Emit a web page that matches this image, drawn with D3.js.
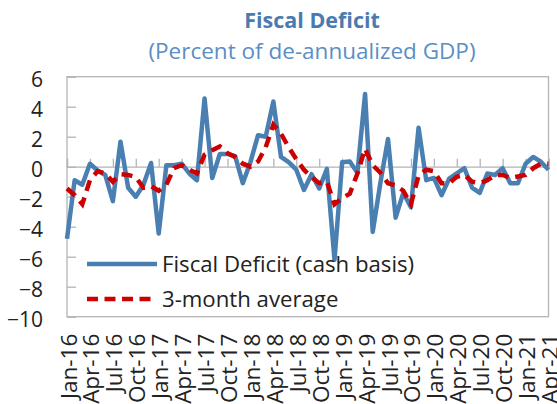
<!DOCTYPE html>
<html>
<head>
<meta charset="utf-8">
<script src="https://cdn.jsdelivr.net/npm/d3@7"></script>
<style>
    body { margin: 0; background: #fff; }
    svg { display: block; font-family: "Open Sans", sans-serif; }
</style>
</head>
<body>
<div id="chart"></div>
<script>
// monthly, Jan-16 .. Apr-21
const monthNames = ["Jan", "Feb", "Mar", "Apr", "May", "Jun", "Jul", "Aug", "Sep", "Oct", "Nov", "Dec"];
const months = [];
for (let yr = 16; yr <= 21; yr++) {
    monthNames.forEach(m => months.push(m + "-" + yr));
}
months.splice(months.indexOf("Apr-21") + 1);

const fiscalDeficit = [-4.8, -0.9, -1.2, 0.2, -0.25, -0.55, -2.3, 1.67, -1.4, -2.0,
    -1.2, 0.25, -4.45, 0.1, 0.1, 0.2, -0.45, -0.9, 4.55, -0.75,
    0.85, 0.85, 0.7, -1.1, 0.3, 2.1, 2.0, 4.35, 0.65, 0.3,
    -0.2, -1.55, -0.5, -1.45, -0.15, -6.2, 0.3, 0.35, -0.4, 4.85,
    -4.35, -1.1, 1.85, -3.4, -1.75, -2.7, 2.6, -0.9, -0.75, -1.9,
    -0.8, -0.45, -0.1, -1.4, -1.75, -0.45, -0.55, -0.1, -1.1, -1.1,
    0.2, 0.65, 0.33, -0.2];

const threeMonthAvg = [-1.45, -1.9, -2.5, -0.9, -0.3, -0.45, -1.0, -0.5, -0.55, -0.7,
    -1.4, -1.3, -1.6, -1.2, -0.1, 0.1, -0.2, -0.45, 0.8, 1.1,
    1.35, 0.9, 0.65, 0.2, 0.0, 0.35, 1.3, 2.8, 2.2, 1.3,
    0.5, -0.2, -0.7, -1.1, -1.0, -2.5, -2.1, -1.8, -0.45, 1.2,
    0.1, -0.4, -1.1, -1.25, -1.6, -2.5, -0.6, -0.2, -0.3, -1.1,
    -1.1, -0.67, -0.55, -1.0, -1.1, -0.9, -0.55, -0.55, -0.75, -0.65,
    -0.55, -0.1, 0.2, 0.2];

const yTicks = [-10, -8, -6, -4, -2, 0, 2, 4, 6];
const xTicks = months.filter((m, i) => i % 3 === 0);

const seriesNames = ["Fiscal Deficit (cash basis)", "3-month average"];

const width = 557, height = 404;
const plot = { left: 67, right: 548.5, top: 76.7, bottom: 316.7 };

const svg = d3.select("#chart")
    .append("svg")
    .attr("width", width)
    .attr("height", height);

const x = d3.scalePoint()
    .domain(months)
    .range([plot.left, plot.right]);

const y = d3.scaleLinear()
    .domain([-10, 6])
    .range([plot.bottom, plot.top]);

// titles
svg.append("text")
    .attr("x", 312)
    .attr("y", 28)
    .attr("text-anchor", "middle")
    .attr("font-size", 21.5)
    .attr("font-weight", "bold")
    .attr("fill", "#4a7bb0")
    .text("Fiscal Deficit");

svg.append("text")
    .attr("x", 312)
    .attr("y", 59)
    .attr("text-anchor", "middle")
    .attr("font-size", 22.5)
    .attr("fill", "#5b8ec5")
    .text("(Percent of de-annualized GDP)");

// plot border
svg.append("rect")
    .attr("x", plot.left)
    .attr("y", plot.top)
    .attr("width", plot.right - plot.left)
    .attr("height", plot.bottom - plot.top)
    .attr("fill", "none")
    .attr("stroke", "#b4b4b4")
    .attr("stroke-width", 1.3);

// y axis, ticks pointing inward
const yAxis = svg.append("g")
    .attr("transform", `translate(${plot.left},0)`)
    .call(d3.axisLeft(y).tickValues(yTicks).tickSize(-9).tickPadding(24));
yAxis.select(".domain").remove();
yAxis.selectAll(".tick line").attr("stroke", "#b4b4b4").attr("stroke-width", 1.3);
yAxis.selectAll("text")
    .attr("font-family", "Open Sans, sans-serif")
    .attr("font-size", 21)
    .attr("fill", "#222")
    .attr("dy", "0.45em");

// category axis on the zero line
const xAxis = svg.append("g")
    .attr("transform", `translate(0,${y(0)})`)
    .call(d3.axisBottom(x).tickValues(xTicks).tickSize(-8).tickFormat(""));
xAxis.select(".domain").attr("stroke", "#b4b4b4").attr("stroke-width", 1.3);
xAxis.selectAll(".tick line").attr("stroke", "#b4b4b4").attr("stroke-width", 1.3);

// rotated labels under the plot
const xLabels = svg.append("g")
    .attr("transform", `translate(0,${plot.bottom})`)
    .call(d3.axisBottom(x).tickValues(xTicks).tickSize(0));
xLabels.select(".domain").remove();
xLabels.selectAll("text")
    .attr("font-family", "Open Sans, sans-serif")
    .attr("font-size", 22.5)
    .attr("fill", "#222")
    .attr("x", 0)
    .attr("y", 0)
    .attr("dy", 0)
    .attr("text-anchor", "end")
    .attr("transform", "translate(9,17) rotate(-90)");

// series
const line = d3.line()
    .x((d, i) => x(months[i]))
    .y(d => y(d));

svg.append("path")
    .datum(fiscalDeficit)
    .attr("d", line)
    .attr("fill", "none")
    .attr("stroke", "#4a7fb2")
    .attr("stroke-width", 4.5)
    .attr("stroke-linejoin", "round");

svg.append("path")
    .datum(threeMonthAvg)
    .attr("d", line)
    .attr("fill", "none")
    .attr("stroke", "#cc0000")
    .attr("stroke-width", 4.5)
    .attr("stroke-dasharray", "11,7");

// legend
const legend = svg.append("g");
const legendY = [264, 299];
const legendStyle = [
    { stroke: "#4a7fb2", dash: null },
    { stroke: "#cc0000", dash: "11,6.5" }
];
seriesNames.forEach(function (name, i) {
    legend.append("line")
        .attr("x1", 87)
        .attr("x2", 157)
        .attr("y1", legendY[i])
        .attr("y2", legendY[i])
        .attr("stroke", legendStyle[i].stroke)
        .attr("stroke-width", 4.5)
        .attr("stroke-dasharray", legendStyle[i].dash);
    legend.append("text")
        .attr("x", 162)
        .attr("y", legendY[i])
        .attr("dy", "0.36em")
        .attr("font-size", 22.2)
        .attr("fill", "#222")
        .text(name);
});
</script>
</body>
</html>
